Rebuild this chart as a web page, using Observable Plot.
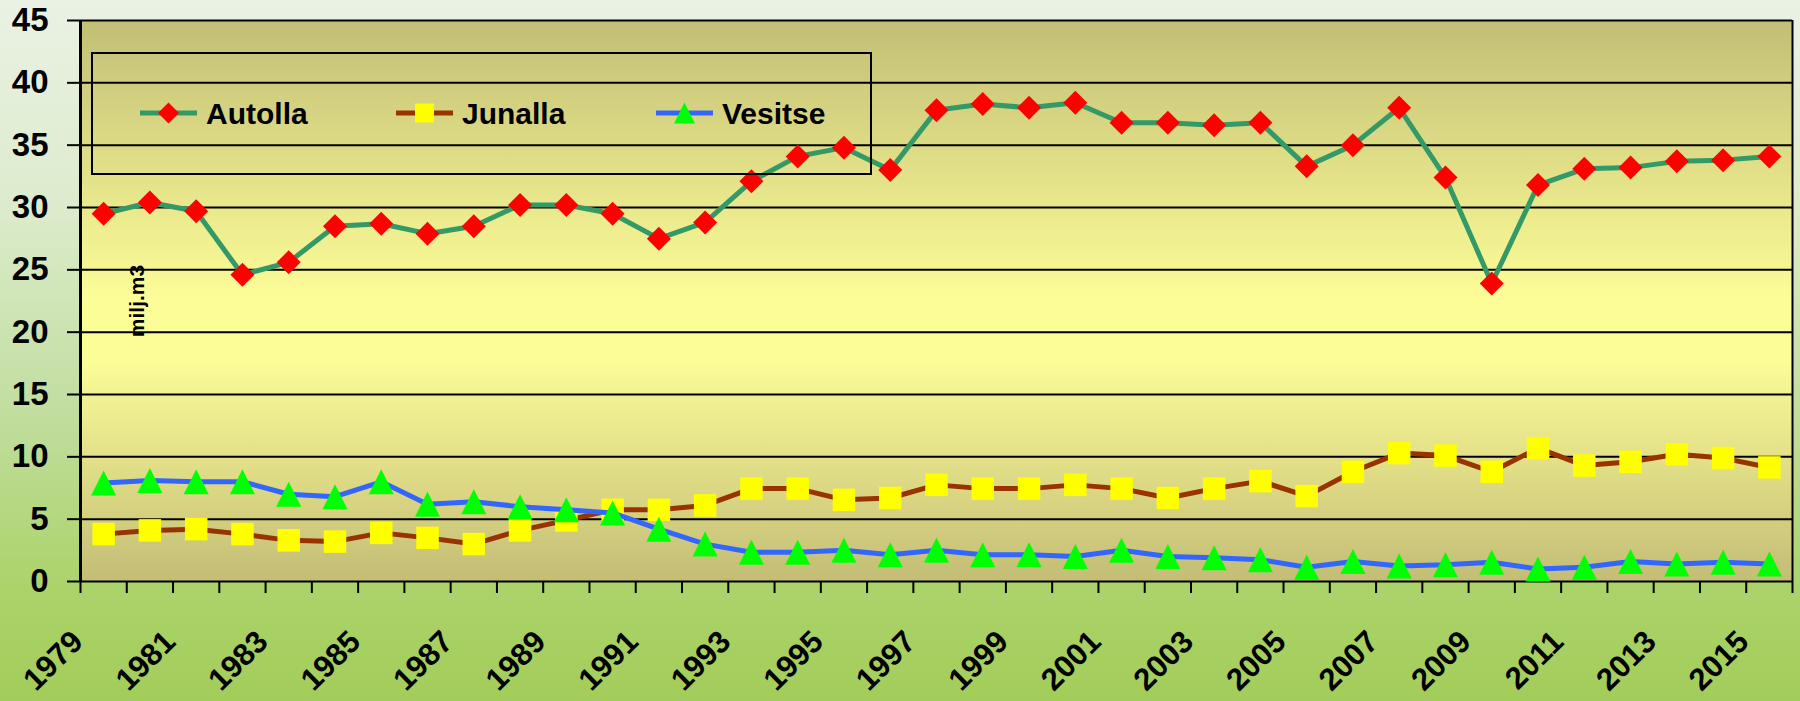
<!DOCTYPE html>
<html>
<head>
<meta charset="utf-8">
<script src="https://cdn.jsdelivr.net/npm/d3@7"></script>
<script src="https://cdn.jsdelivr.net/npm/@observablehq/plot@0.6"></script>
<style>
html, body { margin: 0; padding: 0; }
body { width: 1800px; height: 701px; overflow: hidden; }
#wrap {
  position: relative; width: 1800px; height: 701px;
  background: linear-gradient(to bottom, #eaf2e4 0%, #dcebcc 30%, #c2dea0 58%, #abd36a 84%, #a3cd5a 100%);
  font-family: "Liberation Sans", Arial, sans-serif;
}
#wrap svg { position: absolute; left: 0; top: 0; }
</style>
</head>
<body>
<svg width="0" height="0" style="position:absolute">
  <defs>
    <linearGradient id="plotBg" x1="0" y1="0" x2="0" y2="1">
      <stop offset="0" stop-color="#c2bf76"/>
      <stop offset="0.5" stop-color="#fdfd98"/>
      <stop offset="0.6" stop-color="#fdfd98"/>
      <stop offset="1" stop-color="#c3bd76"/>
    </linearGradient>
  </defs>
</svg>
<div id="wrap"></div>
<script>
// ---- data ----
const years = [1979,1980,1981,1982,1983,1984,1985,1986,1987,1988,1989,1990,1991,1992,1993,1994,1995,1996,1997,1998,1999,2000,2001,2002,2003,2004,2005,2006,2007,2008,2009,2010,2011,2012,2013,2014,2015];
const autolla = [29.5,30.4,29.7,24.6,25.6,28.5,28.7,27.9,28.5,30.2,30.2,29.5,27.5,28.8,32.1,34.1,34.8,33.0,37.8,38.3,38.0,38.4,36.8,36.8,36.6,36.8,33.3,35.0,38.0,32.4,23.9,31.8,33.1,33.2,33.7,33.8,34.1];
const junalla = [3.8,4.1,4.2,3.8,3.3,3.2,3.9,3.5,3.0,4.1,4.9,5.75,5.75,6.1,7.45,7.45,6.55,6.7,7.75,7.45,7.45,7.75,7.45,6.7,7.45,8.05,6.85,8.8,10.3,10.1,8.8,10.7,9.3,9.6,10.2,9.9,9.15];
const vesitse = [7.9,8.1,8.0,8.0,7.0,6.8,8.0,6.2,6.4,6.0,5.75,5.5,4.2,3.0,2.35,2.35,2.5,2.15,2.5,2.15,2.15,2.0,2.5,2.0,1.9,1.75,1.15,1.6,1.25,1.35,1.55,1.0,1.15,1.6,1.4,1.55,1.4];
const seriesNames = ["Autolla", "Junalla", "Vesitse"];
const yTicks = [0,5,10,15,20,25,30,35,40,45];
const xLabels = [1979,1981,1983,1985,1987,1989,1991,1993,1995,1997,1999,2001,2003,2005,2007,2009,2011,2013,2015];
const unitLabel = "milj.m3";

// ---- styles ----
const lineColors = ["#339966", "#993300", "#3366ff"];
const markerColors = ["#ff0000", "#ffff00", "#00ff00"];
const symDiamond = { draw(ctx, size) { const h = Math.sqrt(size) / 2; ctx.moveTo(0, -h); ctx.lineTo(h, 0); ctx.lineTo(0, h); ctx.lineTo(-h, 0); ctx.closePath(); } };
const symSquare = { draw(ctx, size) { const h = Math.sqrt(size) / 2; ctx.rect(-h, -h, 2 * h, 2 * h); } };
const symTriangle = { draw(ctx, size) { const h = Math.sqrt(size) / 2; ctx.moveTo(0, -h); ctx.lineTo(h, h); ctx.lineTo(-h, h); ctx.closePath(); } };
const symbols = [symDiamond, symSquare, symTriangle];
const markerSide = [24, 22.5, 25];
const rFor = (side) => side / Math.sqrt(Math.PI);

const seriesValues = [autolla, junalla, vesitse];
const seriesRows = seriesValues.map(vals => years.map((yr, i) => ({ year: yr, value: vals[i] })));

// category boundaries (1 year wide bands)
const bounds = years.map(y => y - 0.5).concat([years[years.length - 1] + 0.5]);

const seriesMarks = seriesRows.flatMap((rows, k) => [
  Plot.line(rows, { x: "year", y: "value", stroke: lineColors[k], strokeWidth: 5, strokeLinejoin: "round" }),
  Plot.dot(rows, { x: "year", y: "value", symbol: symbols[k], r: rFor(markerSide[k]), fill: markerColors[k], stroke: null })
]);

const chart = Plot.plot({
  width: 1800,
  height: 701,
  marginLeft: 80,
  marginRight: 8,
  marginTop: 20,
  marginBottom: 120,
  style: { background: "transparent", fontFamily: "'Liberation Sans', Arial, sans-serif", fontWeight: "bold", color: "#000", overflow: "visible" },
  x: { domain: [bounds[0], bounds[bounds.length - 1]], axis: null, label: null },
  y: { domain: [0, 45], axis: null, label: null },
  marks: [
    Plot.frame({ fill: "url(#plotBg)", stroke: null }),
    Plot.ruleY(yTicks, { stroke: "#000", strokeWidth: 2 }),
    Plot.axisY({ ticks: yTicks, label: null, tickSize: 13, tickPadding: 19, fontSize: 33, strokeWidth: 2, tickFormat: d => String(d), fill: "#000", stroke: "#000" }),
    Plot.axisX({ ticks: bounds, label: null, tickSize: 12, tickFormat: () => "", strokeWidth: 2, stroke: "#000" }),
    Plot.text(xLabels, { x: d => d, text: d => String(d), frameAnchor: "bottom", dy: 55, dx: -26, rotate: -45, textAnchor: "end", lineAnchor: "middle", fontSize: 31, fontWeight: "bold", fill: "#000" }),
    Plot.text([unitLabel], { text: d => d, frameAnchor: "left", dx: 57, rotate: -90, textAnchor: "middle", lineAnchor: "middle", fontSize: 21, fontWeight: "bold", fill: "#000" }),
    Plot.ruleX([bounds[0]], { stroke: "#000", strokeWidth: 3 }),
    Plot.ruleX([bounds[bounds.length - 1]], { stroke: "#000", strokeWidth: 2 }),
    ...seriesMarks
  ]
});

const wrap = document.getElementById("wrap");
wrap.appendChild(chart);

// ---- legend (inside plot area, top-left) ----
const leg = d3.select(wrap).append("svg")
  .attr("width", 1800).attr("height", 701)
  .style("pointer-events", "none");
leg.append("rect").attr("x", 92).attr("y", 53).attr("width", 779).attr("height", 121)
  .attr("fill", "none").attr("stroke", "#000").attr("stroke-width", 2);
const legX = [140, 396, 656];
const legMarker = [21, 19, 21];
seriesNames.forEach((name, k) => {
  const g = leg.append("g").attr("transform", `translate(${legX[k]},113)`);
  g.append("line").attr("x1", 0).attr("x2", 57).attr("y1", 0).attr("y2", 0)
    .attr("stroke", lineColors[k]).attr("stroke-width", 5);
  g.append("path").attr("transform", "translate(28.5,0)")
    .attr("d", d3.symbol(symbols[k], legMarker[k] * legMarker[k])())
    .attr("fill", markerColors[k]);
  g.append("text").attr("x", 66).attr("y", 11)
    .attr("font-family", "'Liberation Sans', Arial, sans-serif")
    .attr("font-weight", "bold").attr("font-size", 30).attr("fill", "#000")
    .text(name);
});
</script>
</body>
</html>
